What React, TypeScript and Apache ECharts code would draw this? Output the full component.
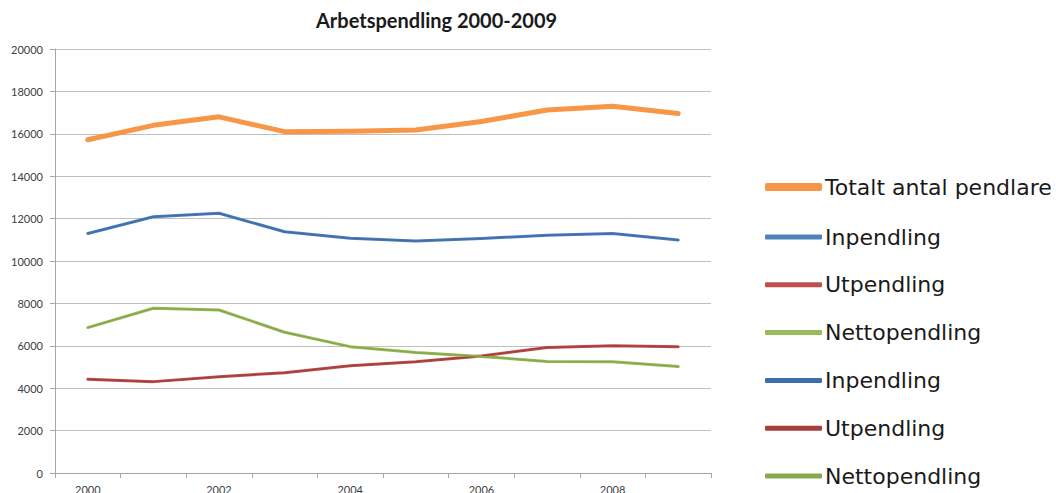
import React, { useEffect, useRef } from "react";
import * as echarts from "echarts";

const years = ["2000", "2001", "2002", "2003", "2004", "2005", "2006", "2007", "2008", "2009"];
const totalt = [15720, 16400, 16800, 16100, 16120, 16180, 16580, 17120, 17300, 16960];
const inpendling = [11300, 12090, 12250, 11380, 11070, 10940, 11060, 11220, 11300, 10990];
const utpendling = [4420, 4310, 4540, 4730, 5060, 5250, 5520, 5920, 6000, 5960];
const nettopendling = [6860, 7770, 7690, 6640, 5960, 5680, 5500, 5260, 5250, 5020];
const yTicks = { min: 0, max: 20000, interval: 2000 };

const FONT = "Lato, 'Open Sans', sans-serif";
const LEGEND_FONT = "'DejaVu Sans', sans-serif";

export default function App() {
  const ref = useRef<HTMLDivElement>(null);
  useEffect(() => {
    if (!ref.current) return;
    const chart = echarts.init(ref.current, undefined, { renderer: "svg" });
    const mk = (name: string, data: number[], color: string, width: number, z: number) => ({
      name,
      type: "line",
      data,
      symbol: "none",
      showSymbol: false,
      z,
      lineStyle: { color, width, cap: "round", join: "round" },
      itemStyle: { color },
    });
    const legendItem = (name: string, color: string) => ({
      name,
      icon: "roundRect",
      itemStyle: { color, borderWidth: 0 },
    });
    const legendText = {
      fontFamily: LEGEND_FONT,
      fontSize: 22,
      color: "#1a1a1a",
      padding: [0, 0, 0, -2],
    };
    chart.setOption({
      animation: false,
      backgroundColor: "#ffffff",
      title: {
        text: "Arbetspendling 2000-2009",
        left: 311,
        top: 5,
        textStyle: { fontFamily: FONT, fontWeight: "bold", fontSize: 20, color: "#1a1a1a" },
      },
      grid: { left: 55, right: 345, top: 49, bottom: 20, containLabel: false, outerBoundsMode: "none" },
      xAxis: {
        type: "category",
        data: years,
        boundaryGap: true,
        axisLine: { lineStyle: { color: "#a6a6a6", width: 1 } },
        axisTick: { show: true, interval: 0, alignWithLabel: false, length: 5, lineStyle: { color: "#a6a6a6" } },
        axisLabel: {
          interval: 0,
          margin: 11,
          fontFamily: FONT,
          fontSize: 11,
          color: "#404040",
          formatter: (v: string, i: number) => (i % 2 === 0 ? v : ""),
        },
        splitLine: { show: false },
      },
      yAxis: {
        type: "value",
        min: yTicks.min,
        max: yTicks.max,
        interval: yTicks.interval,
        axisLine: { show: true, lineStyle: { color: "#a6a6a6", width: 1 } },
        axisTick: { show: true, length: 5, lineStyle: { color: "#a6a6a6" } },
        axisLabel: {
          margin: 12,
          fontFamily: FONT,
          fontSize: 11,
          color: "#404040",
          formatter: (v: number) => String(v),
        },
        splitLine: { show: true, lineStyle: { color: "#bfbfbf", width: 1 } },
      },
      legend: [
        {
          orient: "vertical",
          left: 765,
          top: 176,
          padding: 0,
          itemWidth: 57,
          itemHeight: 8,
          itemGap: 25,
          textStyle: legendText,
          data: [legendItem("Totalt antal pendlare", "#F79646")],
        },
        {
          orient: "vertical",
          left: 765,
          top: 226,
          padding: 0,
          height: 300,
          itemWidth: 57,
          itemHeight: 5,
          itemGap: 25.8,
          textStyle: legendText,
          data: [
            legendItem("Inpendling", "#4F81BD"),
            legendItem("Utpendling", "#C0504D"),
            legendItem("Nettopendling", "#9BBB59"),
            legendItem("Inpendling ", "#3F6EAC"),
            legendItem("Utpendling ", "#A5403D"),
            legendItem("Nettopendling ", "#88A84C"),
          ],
        },
      ],
      series: [
        mk("Totalt antal pendlare", totalt, "#F79646", 5, 2),
        mk("Inpendling", inpendling, "#4F81BD", 3, 3),
        mk("Utpendling", utpendling, "#C0504D", 3, 3),
        mk("Nettopendling", nettopendling, "#9BBB59", 3, 3),
        mk("Inpendling ", inpendling, "#3F6EAC", 1.5, 4),
        mk("Utpendling ", utpendling, "#A5403D", 1.5, 4),
        mk("Nettopendling ", nettopendling, "#88A84C", 1.5, 4),
      ],
    });
    return () => chart.dispose();
  }, []);
  return (
    <div
      ref={ref}
      style={{ position: "fixed", left: 0, top: 0, width: 1056, height: 493, background: "#fff" }}
    />
  );
}
